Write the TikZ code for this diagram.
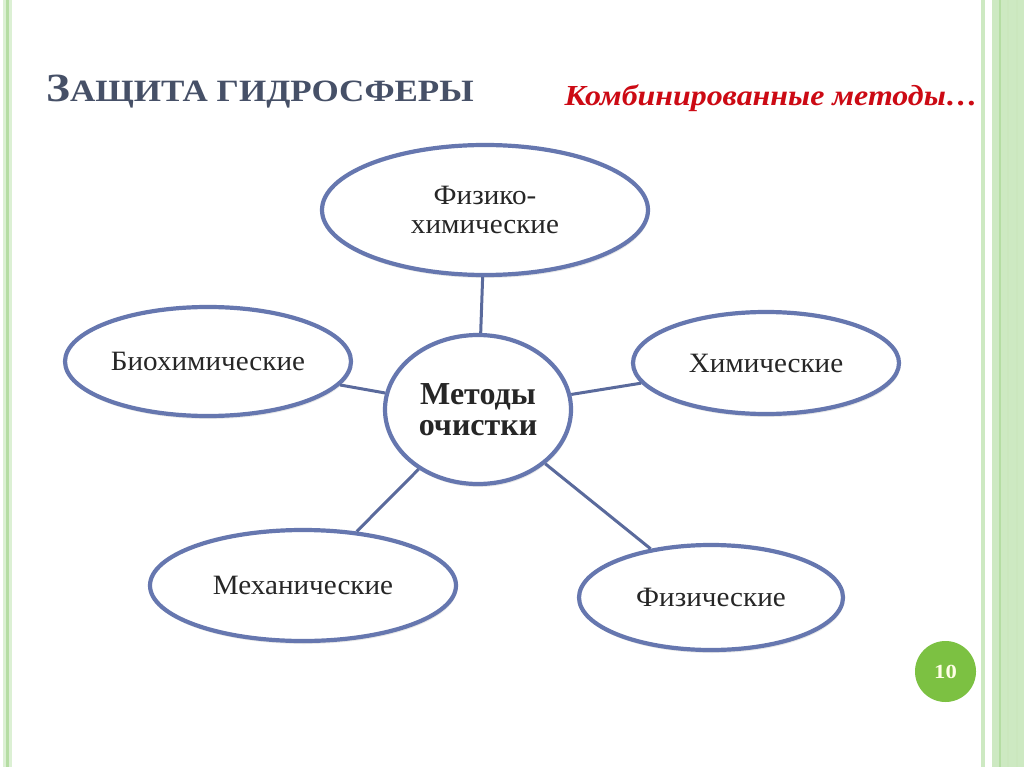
\documentclass[tikz,border=0pt]{standalone}
\usepackage{fontspec}
\setmainfont{Liberation Serif}
\newfontfamily\titlefont[FakeStretch=1.13]{Liberation Serif}
\newfontfamily\subfont[FakeStretch=1.10]{Liberation Serif}
\newfontfamily\ovalfont[FakeStretch=1.04]{Liberation Serif}
\usetikzlibrary{shapes.geometric,shadows}
\definecolor{edgeblue}{HTML}{6677AF}
\definecolor{linkblue}{HTML}{5A6A9C}
\definecolor{titlegray}{HTML}{465067}
\definecolor{subred}{HTML}{CC0A14}
\definecolor{lightgreen}{HTML}{CDE9C2}
\definecolor{midgreen}{HTML}{B5DDA3}
\definecolor{pagegreen}{HTML}{7CC142}
\tikzset{
  oval/.style={ellipse, draw=edgeblue, line width=4.2pt, fill=white, inner sep=0pt,
    drop shadow={opacity=0.18, shadow xshift=1pt, shadow yshift=-3pt}},
  oval/.append style={font=\ovalfont\fontsize{28}{29}\selectfont, text=black!85, align=center},
  link/.style={draw=linkblue, line width=3pt},
}
\begin{document}
\begin{tikzpicture}[x=1pt,y=-1pt]
\useasboundingbox (0,0) rectangle (1024,767);
\fill[white] (0,0) rectangle (1024,767);
% left border
\fill[lightgreen!70] (3,0) rectangle (12,767);
\fill[midgreen] (6,0) rectangle (9,767);
% right border
\fill[lightgreen] (981,0) rectangle (985,767);
\fill[lightgreen] (992,0) rectangle (1024,767);
\fill[midgreen] (999,0) rectangle (1001,767);
\fill[midgreen!70] (1007,0) rectangle (1008.5,767);
\fill[midgreen!70] (1016,0) rectangle (1017.5,767);
% title
\node[anchor=base west, inner sep=0pt, text=titlegray] (title) at (46,102)
  {\titlefont\bfseries\fontsize{40}{40}\selectfont З\fontsize{31}{31}\selectfont АЩИТА ГИДРОСФЕРЫ};
\node[anchor=base east, inner sep=0pt, text=subred] (sub) at (978,106)
  {\subfont\bfseries\itshape\fontsize{29}{29}\selectfont Комбинированные методы…};
% nodes
\node[oval, minimum width=326pt, minimum height=130pt] (top) at (485,210) {Физико-\\химические};
\node[oval, minimum width=286pt, minimum height=109pt] (bio) at (208,361.5) {Биохимические};
\node[oval, minimum width=266pt, minimum height=102pt] (chem) at (766,363) {Химические};
\node[oval, minimum width=306pt, minimum height=111pt] (mech) at (303,585.5) {Механические};
\node[oval, minimum width=264pt, minimum height=105pt] (phys) at (711,597.5) {Физические};
\node[oval, minimum width=186pt, minimum height=149pt, font=\bfseries\fontsize{32}{31}\selectfont] (mid) at (478,409.5) {Методы\\очистки};
% links
\draw[link] (mid) -- (top);
\draw[link] (mid) -- (bio);
\draw[link] (mid) -- (chem);
\draw[link] (mid) -- (mech);
\draw[link] (mid) -- (phys);
% page number
\node[circle, fill=pagegreen, minimum size=61pt, inner sep=0pt, text=white!90!yellow,
  font=\titlefont\bfseries\fontsize{20}{20}\selectfont] (page) at (945.5,671.5) {10};
\end{tikzpicture}
\end{document}
